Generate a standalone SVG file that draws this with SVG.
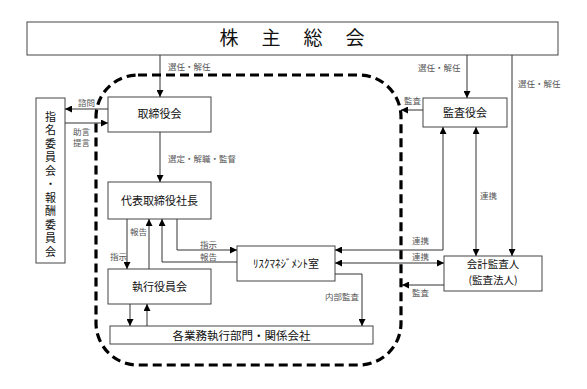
<svg xmlns="http://www.w3.org/2000/svg" width="587" height="389" viewBox="0 0 587 389">
<style>
.box{fill:#fff;stroke:#444;stroke-width:1}
.t{font-family:"Noto Sans CJK JP","Noto Sans",sans-serif;font-size:11px;fill:#111;text-anchor:middle}
.lb{font-family:"Noto Sans CJK JP","Noto Sans",sans-serif;font-size:8.5px;fill:#555}
.big{font-family:"Noto Sans CJK JP","Noto Sans",sans-serif;font-size:19px;fill:#111;text-anchor:middle}
.c{fill:none;stroke:#333;stroke-width:1}
.frame{fill:none;stroke:#000;stroke-width:3.2;stroke-dasharray:9 5}
</style>
<defs>
<marker id="a" viewBox="0 0 8 8" refX="8" refY="4" markerWidth="7" markerHeight="7" markerUnits="userSpaceOnUse" orient="auto-start-reverse">
<path d="M0,0 L8,4 L0,8 z" fill="#000"/>
</marker>
</defs>
<rect width="587" height="389" fill="#fff"/>

<g id="shareholders">
<rect class="box" x="27" y="22" width="531" height="33"/>
<text class="big" x="229" y="45">株</text>
<text class="big" x="271" y="45">主</text>
<text class="big" x="313" y="45">総</text>
<text class="big" x="355" y="45">会</text>
</g>

<g id="nomination">
<rect class="box" x="36" y="98" width="29" height="165"/>
<text x="50.5" y="111" writing-mode="vertical-rl" style="font-family:'Noto Sans CJK JP',sans-serif;font-size:11px;fill:#111;letter-spacing:2.5px">指名委員会・報酬委員会</text>
</g>

<g id="board">
<rect class="box" x="108" y="97" width="103" height="35"/>
<text class="t" x="159.5" y="118">取締役会</text>
</g>

<g id="president">
<rect class="box" x="108" y="182" width="103" height="37"/>
<text class="t" x="159.5" y="204.5">代表取締役社長</text>
</g>

<g id="executive">
<rect class="box" x="108" y="269" width="103" height="35"/>
<text class="t" x="159.5" y="290.5">執行役員会</text>
</g>

<g id="divisions">
<rect class="box" x="110" y="326" width="263" height="18"/>
<text class="t" x="241.5" y="339.5" style="font-size:11.5px">各業務執行部門・関係会社</text>
</g>

<g id="risk">
<rect class="box" x="237" y="246" width="98" height="35"/>
<text class="t" x="286" y="267.5">ﾘｽｸﾏﾈｼﾞﾒﾝﾄ室</text>
</g>

<g id="auditboard">
<rect class="box" x="423" y="98" width="84" height="29"/>
<text class="t" x="465" y="116.5">監査役会</text>
</g>

<g id="accountant">
<rect class="box" x="444" y="256" width="98" height="35"/>
<text class="t" x="493" y="268" style="font-size:10.5px">会計監査人</text>
<text class="t" x="493" y="283.5" style="font-size:10.5px">(監査法人)</text>
</g>

<g id="connectors">
<path class="c" d="M160,55 V97" marker-end="url(#a)"/>
<path class="c" d="M108,109 H65" marker-end="url(#a)"/>
<path class="c" d="M65,123 H108" marker-end="url(#a)"/>
<path class="c" d="M160,132 V182" marker-end="url(#a)"/>
<path class="c" d="M127,219 V269" marker-end="url(#a)"/>
<path class="c" d="M149,269 V219" marker-end="url(#a)"/>
<path class="c" d="M237,262 H162 V219" marker-end="url(#a)"/>
<path class="c" d="M177,219 V250 H237" marker-end="url(#a)"/>
<path class="c" d="M130,304 V326" marker-end="url(#a)"/>
<path class="c" d="M147,326 V304" marker-end="url(#a)"/>
<path class="c" d="M335,274 H362 V326" marker-end="url(#a)"/>
<path class="c" d="M467,55 V98" marker-end="url(#a)"/>
<path class="c" d="M512,55 V256" marker-end="url(#a)"/>
<path class="c" d="M423,110 H401" marker-end="url(#a)"/>
<path class="c" d="M476,127 V256" marker-start="url(#a)" marker-end="url(#a)"/>
<path class="c" d="M443,127 V250 H335" marker-start="url(#a)" marker-end="url(#a)"/>
<path class="c" d="M335,263 H444" marker-start="url(#a)" marker-end="url(#a)"/>
<path class="c" d="M444,285 H402" marker-end="url(#a)"/>
</g>

<g id="labels">
<text class="lb" x="168" y="70">選任・解任</text>
<text class="lb" x="78" y="106">諮問</text>
<text class="lb" x="73" y="135">助言</text>
<text class="lb" x="73" y="146">提言</text>
<text class="lb" x="168" y="162">選定・解職・監督</text>
<text class="lb" x="130" y="235">報告</text>
<text class="lb" x="110" y="260">指示</text>
<text class="lb" x="200" y="248">指示</text>
<text class="lb" x="200" y="260">報告</text>
<text class="lb" x="325" y="300">内部監査</text>
<text class="lb" x="418" y="71">選任・解任</text>
<text class="lb" x="518" y="87">選任・解任</text>
<text class="lb" x="404" y="104">監査</text>
<text class="lb" x="480" y="199">連携</text>
<text class="lb" x="412" y="244">連携</text>
<text class="lb" x="412" y="260">連携</text>
<text class="lb" x="412" y="296">監査</text>
</g>

<g id="frame">
<path class="frame" d="M138,75 H359 A42,42 0 0 1 401,117 V323 A42,42 0 0 1 359,365 H138 A42,42 0 0 1 96,323 V117 A42,42 0 0 1 138,75 Z"/>
</g>
</svg>
